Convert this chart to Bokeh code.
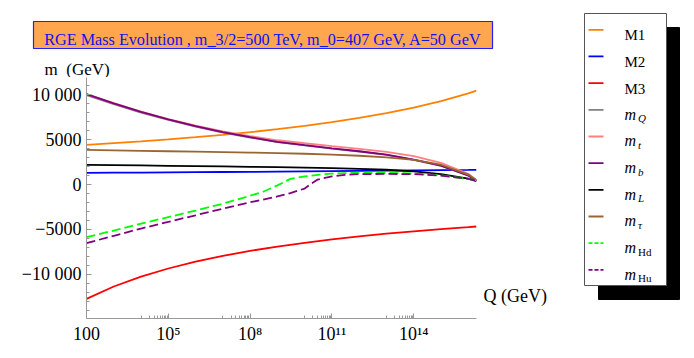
from bokeh.plotting import figure
from bokeh.models import FixedTicker, Range1d
from bokeh.layouts import row, column
from bokeh.core.properties import value
from bokeh.embed import file_html
from bokeh.resources import INLINE

# ---------------- data ----------------
Q = [1e2, 1e3, 1e4, 1e5, 1e6, 1e7, 1e8, 1e9, 1e10, 1e11, 1e12, 1e13, 1e14, 1e15, 1e16, 2e16]
M1 = [4410, 4600, 4800, 5020, 5260, 5520, 5820, 6150, 6510, 6930, 7400, 7930, 8560, 9280, 10140, 10440]
M2 = [1300, 1315, 1330, 1350, 1370, 1390, 1410, 1435, 1460, 1485, 1510, 1535, 1560, 1590, 1620, 1630]
M3 = [-12710, -11340, -10240, -9340, -8580, -7940, -7380, -6900, -6480, -6100, -5770, -5470, -5200, -4960, -4740, -4670]
mQ = [9950, 8950, 8000, 7180, 6430, 5780, 5220, 4720, 4350, 4000, 3670, 3300, 2750, 2080, 990, 430]
mt = [10050, 9040, 8100, 7280, 6540, 5900, 5380, 4920, 4590, 4270, 3960, 3640, 3150, 2400, 1200, 450]
mb = [10050, 9030, 8070, 7240, 6480, 5820, 5260, 4750, 4380, 4030, 3700, 3330, 2780, 2100, 1000, 440]
mL = [2190, 2160, 2120, 2080, 2050, 2010, 1970, 1930, 1880, 1820, 1740, 1640, 1450, 1150, 650, 370]
mtau = [3850, 3800, 3750, 3700, 3650, 3600, 3550, 3490, 3420, 3330, 3200, 3020, 2750, 2200, 1100, 500]

Q_hd = [1e2, 1e3, 1e4, 1e5, 1e6, 1e7, 1e8, 3e8, 1e9, 3e9, 1e10, 3e10, 1e11, 1e12, 1e13, 1e14, 1e15, 1e16, 2e16]
mHd = [-5850, -5120, -4350, -3620, -2900, -2130, -1250, -800, -100, 630, 900, 1080, 1220, 1320, 1300, 1220, 1020, 620, 440]
Q_hu = [1e2, 1e3, 1e4, 1e5, 1e6, 1e7, 1e8, 1e9, 3e9, 1e10, 1.8e10, 3e10, 1e11, 3e11, 1e12, 1e13, 1e14, 1e15, 1e16, 2e16]
mHu = [-6520, -5700, -4900, -4150, -3420, -2680, -1980, -1330, -950, -450, 120, 550, 900, 1080, 1150, 1180, 1150, 1000, 620, 440]

x_ticks = [100, 10**5, 10**8, 10**11, 10**14]
x_tick_labels = ["100", "10\u2075", "10\u2078", "10\u00b9\u00b9", "10\u00b9\u2074"]
y_ticks = [-10000, -5000, 0, 5000, 10000]
y_tick_labels = ["\u221210 000", "\u22125000", "0", "5000", "10 000"]

title_text = "RGE Mass Evolution , m_3/2=500 TeV, m_0=407 GeV, A=50 GeV"
y_title = "m\u00a0\u00a0(GeV)"
x_title = "Q (GeV)"

# series: (x, y, color, dashed, legend main, legend sub, sub italic)
series = [
    (Q, M1, "#FF8000", False, "M1", "", False),
    (Q, M2, "#0000FF", False, "M2", "", False),
    (Q, M3, "#FF0000", False, "M3", "", False),
    (Q, mQ, "#808080", False, "m", "Q", True),
    (Q, mt, "#FF8080", False, "m", "t", True),
    (Q, mb, "#800080", False, "m", "b", True),
    (Q, mL, "#000000", False, "m", "L", True),
    (Q, mtau, "#996633", False, "m", "\u03c4", True),
    (Q_hd, mHd, "#00FF00", True, "m", "Hd", False),
    (Q_hu, mHu, "#800080", True, "m", "Hu", False),
]

SERIF = "Liberation Serif"


def blank_fig(w, h, x0, y0):
    """A figure whose frame fills its whole canvas; data coords == page pixels."""
    f = figure(width=w, height=h, x_range=Range1d(x0, x0 + w), y_range=Range1d(y0 + h, y0),
               output_backend="svg", toolbar_location=None,
               x_axis_location=None, y_axis_location=None,
               min_border=0, min_border_left=0, min_border_right=0,
               min_border_top=0, min_border_bottom=0)
    f.outline_line_color = None
    f.grid.visible = False
    return f


# ---------------- title strip (page y 0..52) ----------------
tf = blank_fig(583, 52, 0, 0)
tf.quad(left=[33], right=[492], top=[21], bottom=[48],
        fill_color="#FFA64F", line_color="#2020FF", line_width=1.2)
tf.text(x=[262.5], y=[39.5], text=[title_text], text_font=value(SERIF),
        text_font_size="16.2px", text_align="center", text_baseline="alphabetic",
        text_color="#1010F0")

# ---------------- y-title strip (page y 52..77) ----------------
yf = blank_fig(583, 25, 0, 52)
yf.text(x=[44], y=[68.5], text=[y_title], text_font=value(SERIF),
        text_font_size="17px", text_align="left", text_baseline="alphabetic",
        text_color="black")

# ---------------- main plot (page x 0..478, y 77..350) ----------------
p = figure(width=478, height=273, x_axis_type="log",
           x_range=(1e2, 2e16), y_range=(-14900, 11900),
           output_backend="svg", toolbar_location=None,
           min_border_left=86, min_border_right=2,
           min_border_top=0, min_border_bottom=32)
p.outline_line_color = None
p.xgrid.visible = False
p.ygrid.visible = False

for xs, ys, col, dashed, *_ in series:
    p.line(xs, ys, line_color=col, line_width=1.8,
           line_dash="9 4" if dashed else "solid")

minor_x = [k * 10**n for n in (4, 7, 10, 13) for k in range(1, 10)]
p.xaxis.ticker = FixedTicker(ticks=x_ticks, minor_ticks=minor_x)
p.xaxis.major_label_overrides = dict(zip(x_ticks, x_tick_labels))
p.yaxis.ticker = FixedTicker(ticks=y_ticks, minor_ticks=list(range(-14000, 12000, 1000)))
p.yaxis.major_label_overrides = dict(zip(y_ticks, y_tick_labels))
for ax in (p.xaxis[0], p.yaxis[0]):
    ax.axis_line_color = "#999999"
    ax.major_tick_line_color = "#999999"
    ax.minor_tick_line_color = "#999999"
    ax.major_tick_in = 5
    ax.major_tick_out = 0
    ax.minor_tick_in = 3
    ax.minor_tick_out = 0
    ax.major_label_text_font = SERIF
    ax.major_label_text_font_size = "18px"
    ax.major_label_text_color = "black"
    ax.major_label_standoff = 5

# ---------------- x-axis title strip (page x 478..583, y 77..350) ----------------
qf = blank_fig(105, 273, 478, 77)
qf.text(x=[483], y=[324], text=[x_title], text_font=value(SERIF),
        text_font_size="18px", text_align="left", text_baseline="alphabetic",
        text_color="black")

# ---------------- legend (page x 583..686, y 0..350) ----------------
lf = blank_fig(103, 350, 583, 0)
lf.quad(left=[598], right=[679], top=[27], bottom=[299], fill_color="black", line_color="black")
lf.quad(left=[584], right=[666], top=[13], bottom=[285], fill_color="white", line_color="#555555",
        line_width=1)

for i, (xs, ys, col, dashed, main, sub, sub_it) in enumerate(series):
    ly = 29.3 + i * 26.67
    lf.line([588, 603], [ly, ly], line_color=col, line_width=1.8,
            line_dash="4 2" if dashed else "solid")
    if sub == "":
        lf.text(x=[624], y=[ly + 5.5], text=[main], text_font=value(SERIF),
                text_font_size="15px", text_align="left", text_baseline="alphabetic",
                text_color="black")
    else:
        lf.text(x=[624], y=[ly + 4.3], text=[main], text_font=value(SERIF),
                text_font_size="16px", text_font_style="italic", text_align="left",
                text_baseline="alphabetic", text_color="black")
        lf.text(x=[637.5], y=[ly + 8.5], text=[sub], text_font=value(SERIF),
                text_font_size="11px", text_font_style="italic" if sub_it else "normal",
                text_align="left", text_baseline="alphabetic", text_color="black")

layout = row(column(tf, yf, row(p, qf)), lf)
open("out.html", "w").write(file_html(layout, INLINE))
